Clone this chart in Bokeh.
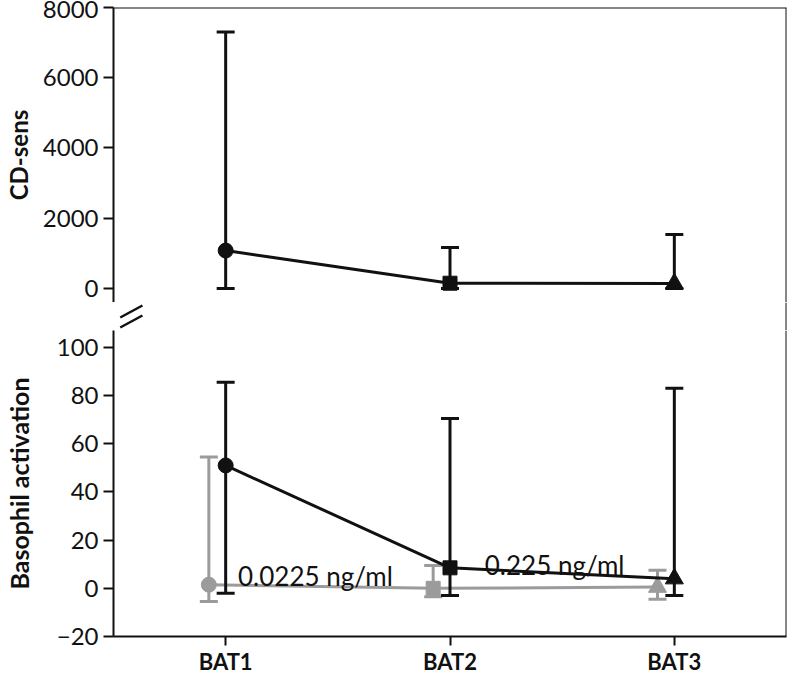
from bokeh.plotting import figure
from bokeh.layouts import column
from bokeh.models import (Range1d, FactorRange, FixedTicker, Span,
                          ColumnDataSource, Label)
from bokeh.transform import dodge, factor_mark
from bokeh.embed import file_html
from bokeh.resources import INLINE

# ---------------- data ----------------
categories = ["BAT1", "BAT2", "BAT3"]
cd_sens_median = [1080, 150, 140]
cd_sens_upper = [7300, 1170, 1540]
cd_sens_lower = [0, 0, 0]
bat_high_median = [51, 8.5, 4]        # 0.225 ng/ml (black)
bat_high_upper = [85.5, 70.5, 83]
bat_high_lower = [-2, -3, -3]
bat_low_median = [1.5, 0, 0.5]        # 0.0225 ng/ml (gray)
bat_low_upper = [54.5, 9.5, 7.5]
bat_low_lower = [-5.5, -3.5, -4.5]
low_label = "0.0225 ng/ml"
high_label = "0.225 ng/ml"
cd_ticks = [0, 2000, 4000, 6000, 8000]
bat_ticks = [-20, 0, 20, 40, 60, 80, 100]

FONT = "Lato"
BLACK = "#111111"
GRAY = "#9b9b9b"
MARKERS = ["circle", "square", "triangle"]
MARKER_SIZES = [15, 14, 18]
W = 787
LEFT = 107

x_range = FactorRange(*categories)


def style_left_axis(p, label, ticks, standoff, label_size):
    ax = p.yaxis[0]
    ax.ticker = FixedTicker(ticks=ticks)
    ax.axis_label = label
    ax.axis_label_text_font = FONT
    ax.axis_label_text_font_style = "bold"
    ax.axis_label_text_font_size = label_size
    ax.axis_label_text_color = BLACK
    ax.axis_label_standoff = standoff
    ax.major_label_text_font = FONT
    ax.major_label_text_font_size = "24px"
    ax.major_label_text_color = BLACK
    ax.major_label_standoff = 5
    ax.axis_line_width = 2
    ax.axis_line_color = BLACK
    ax.major_tick_line_width = 2
    ax.major_tick_line_color = BLACK
    ax.major_tick_out = 10
    ax.major_tick_in = 0
    ax.minor_tick_line_color = None


def base_fig(height, xr, yr, **kw):
    p = figure(width=W, height=height, x_range=xr, y_range=yr,
               output_backend="svg", toolbar_location=None,
               min_border_right=1, **kw)
    p.xgrid.visible = False
    p.ygrid.visible = False
    p.outline_line_color = None
    p.background_fill_color = "white"
    p.border_fill_color = "white"
    return p


def draw_series(p, cats, med, up, lo, color, offset):
    src = ColumnDataSource(dict(x=cats, y=med, up=up, lo=lo, size=MARKER_SIZES))
    xx = dodge("x", offset, range=p.x_range)
    p.segment(x0=xx, y0="lo", x1=xx, y1="up", source=src, line_color=color, line_width=3)
    p.scatter(x=xx, y="up", source=src, marker="dash", size=18, line_color=color, line_width=3)
    p.scatter(x=xx, y="lo", source=src, marker="dash", size=18, line_color=color, line_width=3)
    p.line(x=xx, y="y", source=src, line_color=color, line_width=3)
    p.scatter(x=xx, y="y", source=src, size="size",
              marker=factor_mark("x", MARKERS, cats),
              fill_color=color, line_color=color)


# ---------------- top panel: CD-sens ----------------
top = base_fig(302, x_range, Range1d(-398.6, 8000), min_border_left=LEFT,
               min_border_top=7, min_border_bottom=0, x_axis_location=None)
style_left_axis(top, "CD-sens", cd_ticks, 7, "24px")
top.add_layout(Span(location=8000, dimension="width", line_color=BLACK, line_width=2))
top.add_layout(Span(location=3, dimension="height", line_color=BLACK, line_width=2))
draw_series(top, categories, cd_sens_median, cd_sens_upper, cd_sens_lower, BLACK, 0)

# ---------------- gap with the axis-break marks ----------------
gap = base_fig(28, Range1d(88, W - 1), Range1d(330, 302), min_border_left=88,
               min_border_top=0, min_border_bottom=0,
               x_axis_location=None, y_axis_location=None)
gap.segment(x0=[95, 95], y0=[317, 327], x1=[118, 118], y1=[305, 315],
            line_color=BLACK, line_width=2.5)
gap.add_layout(Span(location=W - 1, dimension="height", line_color=BLACK, line_width=2))

# ---------------- bottom panel: basophil activation ----------------
bot = base_fig(347, x_range, Range1d(-20, 107), min_border_left=LEFT,
               min_border_top=0, min_border_bottom=38)
style_left_axis(bot, "Basophil activation", bat_ticks, 20, "25px")
bot.yaxis[0].major_label_overrides = {-20: "\u221220"}
bot.add_layout(Span(location=3, dimension="height", line_color=BLACK, line_width=2))
xa = bot.xaxis[0]
xa.major_label_text_font = FONT
xa.major_label_text_font_style = "bold"
xa.major_label_text_font_size = "22px"
xa.major_label_text_line_height = 1.0
xa.major_label_text_color = BLACK
xa.major_label_standoff = 2
xa.axis_line_width = 2
xa.axis_line_color = BLACK
xa.major_tick_line_width = 2
xa.major_tick_line_color = BLACK
xa.major_tick_out = 9
xa.major_tick_in = 0

draw_series(bot, categories, bat_low_median, bat_low_upper, bat_low_lower, GRAY, -0.075)
draw_series(bot, categories, bat_high_median, bat_high_upper, bat_high_lower, BLACK, 0)

bot.add_layout(Label(x=0.555, y=5.0, text=low_label, text_font=FONT,
                     text_font_size="26px", text_color=BLACK, text_baseline="alphabetic"))
bot.add_layout(Label(x=1.655, y=9.6, text=high_label, text_font=FONT,
                     text_font_size="26px", text_color=BLACK, text_baseline="alphabetic"))

layout = column(top, gap, bot)
open("out.html", "w").write(file_html(layout, INLINE))
